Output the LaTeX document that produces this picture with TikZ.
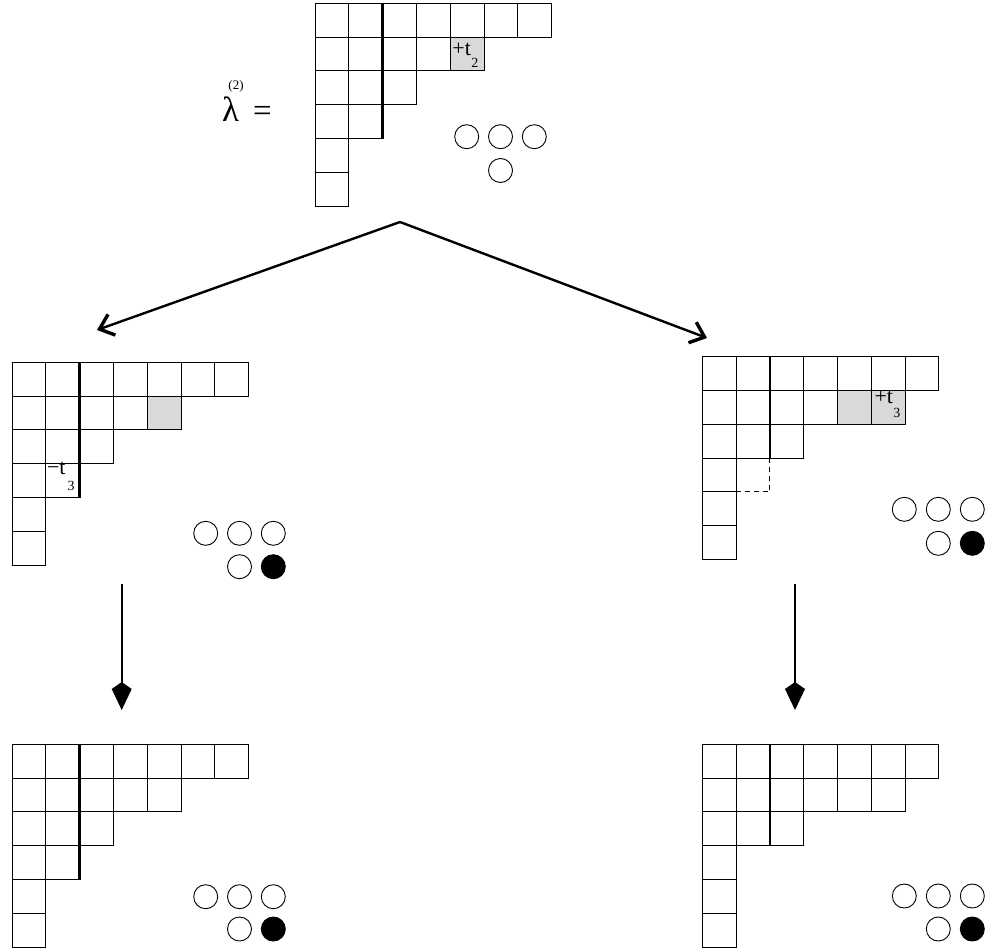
\documentclass[tikz,border=0pt]{standalone}
\usepackage{fontspec}
\setmainfont{Liberation Serif}
\usetikzlibrary{arrows.meta, positioning}

% rows of a Young diagram, lengths from top to bottom
\newcommand{\youngrows}[1]{%
  \foreach \len [count=\r from 0] in {#1} {
    \foreach \c in {1,...,\len} {
      \draw[cell] (\c-1,\r) rectangle (\c,\r+1);
    }
  }
}

\begin{document}
\begin{tikzpicture}
	[x=1pt, y=-1pt,
	cell/.style={line width=1pt},
	hook/.style={line width=2.6pt},
	added/.style={fill=black!15},
	ghost/.style={line width=1pt, dash pattern=on 5pt off 4pt},
	token/.style={draw, line width=0.9pt},
	fulltoken/.style={draw, fill=black, line width=0.9pt},
	branch/.style={-{Straight Barb[length=13pt, width=22pt, line width=3.4pt]}, line width=2.4pt},
	move/.style={-{Kite[length=28pt, width=20pt, inset=7pt]}, line width=2pt},
	lbl/.style={anchor=base west, inner sep=0pt, font=\fontsize{22}{22}\selectfont},
	idx/.style={anchor=base west, inner sep=0pt, font=\fontsize{14}{14}\selectfont}
	]
	\useasboundingbox (0,0) rectangle (987,950);
	
	% Label
	\node[anchor=base west, inner sep=0pt, font=\fontsize{35}{35}\selectfont] (lambda) at (222,121) {λ};
	\node[anchor=base, inner sep=0pt, font=\fontsize{13}{13}\selectfont] (lambdaidx) at (236,89) {(2)};
	\node[anchor=base west, inner sep=0pt, font=\fontsize{33}{33}\selectfont] (eq) at (253,121) {=};
	
	% Top diagram
	\begin{scope}[shift={(315,3.3)}, scale=33.8]
		\fill[added] (4,1) rectangle (5,2);
		\youngrows{7,5,3,2,1,1}
		\draw[hook] (2,0) -- (2,4);
		\node[lbl] (topt) at (4.06,1.53) {+t};
		\node[idx] (topi) at (4.62,1.885) {2};
	\end{scope}
	\draw[token] (466.7,136.7) circle (12);
	\draw[token] (500.5,136.7) circle (12);
	\draw[token] (534.3,136.7) circle (12);
	\draw[token] (500.5,170.5) circle (12);
	
	% Middle left
	\begin{scope}[shift={(12,362.3)}, scale=33.8]
		\fill[added] (4,1) rectangle (5,2);
		\youngrows{7,5,3,2,1,1}
		\draw[hook] (2,0) -- (2,4);
		\node[lbl] (minust) at (1.03,3.32) {−t};
		\node[idx] (minusi) at (1.64,3.80) {3};
	\end{scope}
	\draw[token] (205.7,533.3) circle (12);
	\draw[token] (239.5,533.3) circle (12);
	\draw[token] (273.3,533.3) circle (12);
	\draw[token] (239.5,566.7) circle (12);
	\draw[fulltoken] (273.3,566.7) circle (12);
	
	% Middle right
	\begin{scope}[shift={(702.3,356.7)}, scale=33.8]
		\fill[added] (4,1) rectangle (6,2);
		\youngrows{7,6,3,1,1,1}
		\draw[hook] (2,0) -- (2,3);
		\draw[ghost] (2,3) -- (2,4) -- (1,4);
		\node[lbl] (plust) at (5.09,1.39) {+t};
		\node[idx] (plusi) at (5.65,1.80) {3};
	\end{scope}
	\draw[token] (904.3,509.3) circle (12);
	\draw[token] (938.3,509.3) circle (12);
	\draw[token] (972.3,509.3) circle (12);
	\draw[token] (938.3,543.3) circle (12);
	\draw[fulltoken] (972.3,543.3) circle (12);
	
	% Bottom left
	\begin{scope}[shift={(12,744.3)}, scale=33.8]
		\youngrows{7,5,3,2,1,1}
		\draw[hook] (2,0) -- (2,4);
	\end{scope}
	\draw[token] (205.7,896.7) circle (12);
	\draw[token] (239.5,896.7) circle (12);
	\draw[token] (273.3,896.7) circle (12);
	\draw[token] (239.5,929) circle (12);
	\draw[fulltoken] (273.3,929) circle (12);
	
	% Bottom right
	\begin{scope}[shift={(702.3,744.3)}, scale=33.8]
		\youngrows{7,6,3,1,1,1}
		\draw[hook] (2,0) -- (2,3);
	\end{scope}
	\draw[token] (904.3,896) circle (12);
	\draw[token] (938.3,896) circle (12);
	\draw[token] (972.3,896) circle (12);
	\draw[token] (938.3,929) circle (12);
	\draw[fulltoken] (972.3,929) circle (12);
	
	% Arrows
	\coordinate (fork) at (400,222);
	\coordinate (leftend) at (97,330);
	\coordinate (rightend) at (707,338);
	\coordinate (leftfrom) at (121.7,584);
	\coordinate (leftto) at (121.7,710);
	\coordinate (rightfrom) at (795,584);
	\coordinate (rightto) at (795,710);
	\draw[branch] (fork) -- (leftend);
	\draw[branch] (fork) -- (rightend);
	\draw[move] (leftfrom) -- (leftto);
	\draw[move] (rightfrom) -- (rightto);
\end{tikzpicture}
\end{document}
